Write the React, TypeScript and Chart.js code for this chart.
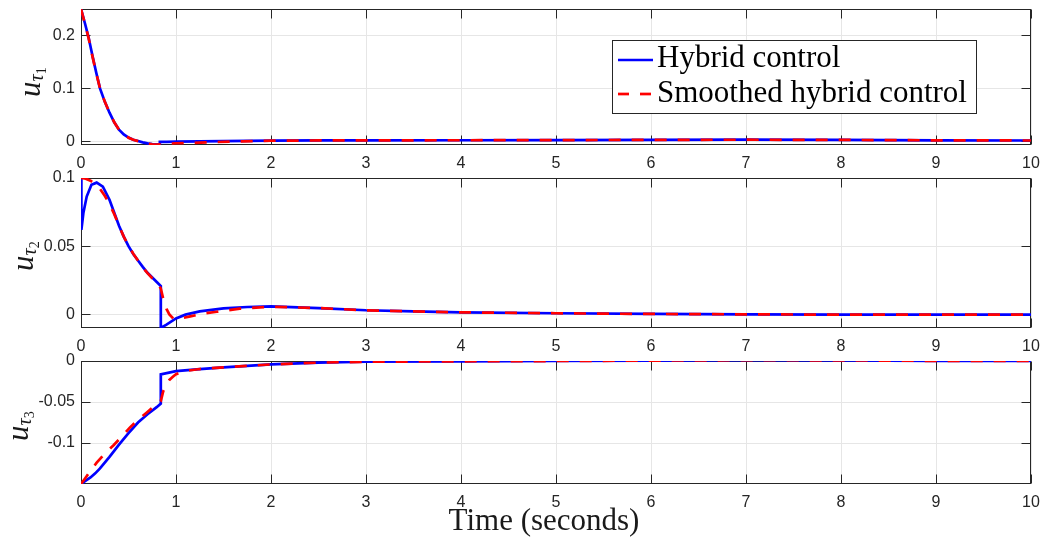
import { useEffect, useRef } from "react";
import { Chart, registerables } from "chart.js";

Chart.register(...registerables);

// ---------------- data ----------------
const xTicks = [0, 1, 2, 3, 4, 5, 6, 7, 8, 9, 10];
const xTickLabels = ["0", "1", "2", "3", "4", "5", "6", "7", "8", "9", "10"];

const seriesNames = ["Hybrid control", "Smoothed hybrid control"];
const xAxisTitle = "Time (seconds)";

// panel 1: u_tau1
const y1Ticks = [0, 0.1, 0.2];
const y1TickLabels = ["0", "0.1", "0.2"];
const t1Hybrid = [0, 0.04, 0.08, 0.12, 0.16, 0.2, 0.25, 0.3, 0.35, 0.4, 0.45, 0.5, 0.55, 0.6, 0.65, 0.7, 0.75, 0.8, 0.83, 0.83, 0.9, 1, 1.25, 1.5, 2, 2.5, 3, 4, 5, 6, 7, 8, 9, 10];
const u1Hybrid = [0.25, 0.224, 0.196, 0.162, 0.13, 0.1, 0.075, 0.054, 0.036, 0.022, 0.013, 0.007, 0.003, 0.0005, -0.002, -0.004, -0.0052, -0.0058, -0.006, -0.0012, -0.001, -0.0008, -0.0002, 0.0004, 0.0012, 0.0016, 0.0018, 0.002, 0.0022, 0.0027, 0.003, 0.0026, 0.0018, 0.0015];
const t1Smooth = [0, 0.04, 0.08, 0.12, 0.16, 0.2, 0.25, 0.3, 0.35, 0.4, 0.45, 0.5, 0.55, 0.6, 0.65, 0.7, 0.75, 0.8, 0.85, 0.9, 1, 1.17, 1.4, 1.7, 2, 2.5, 3, 4, 5, 6, 7, 8, 9, 10];
const u1Smooth = [0.25, 0.223, 0.195, 0.161, 0.129, 0.1, 0.075, 0.054, 0.036, 0.022, 0.013, 0.0068, 0.0028, 0.0003, -0.0025, -0.0045, -0.0058, -0.0062, -0.0055, -0.0047, -0.0037, -0.003, -0.0015, 0, 0.0011, 0.0016, 0.0018, 0.002, 0.0022, 0.0027, 0.003, 0.0026, 0.0018, 0.0015];

// panel 2: u_tau2
const y2Ticks = [0, 0.05, 0.1];
const y2TickLabels = ["0", "0.05", "0.1"];
const t2Hybrid = [0, 0.004, 0.025, 0.06, 0.11, 0.165, 0.23, 0.3, 0.35, 0.4, 0.45, 0.5, 0.55, 0.6, 0.65, 0.7, 0.75, 0.8, 0.84, 0.84, 0.9, 1, 1.1, 1.25, 1.5, 1.75, 2, 2.5, 3, 3.5, 4, 5, 6, 7, 8, 9, 10];
const u2Hybrid = [0.1, 0.062, 0.0743, 0.0864, 0.095, 0.0966, 0.0937, 0.084, 0.0745, 0.065, 0.057, 0.05, 0.0443, 0.0395, 0.0348, 0.0305, 0.027, 0.0235, 0.0208, -0.01, -0.0075, -0.003, -0.0002, 0.0022, 0.0044, 0.0054, 0.0058, 0.0046, 0.003, 0.0022, 0.0015, 0.0008, 0.0003, 0, -0.0002, -0.0002, -0.0002];
const t2Smooth = [0, 0.05, 0.1, 0.15, 0.2, 0.25, 0.3, 0.35, 0.4, 0.45, 0.5, 0.55, 0.6, 0.65, 0.7, 0.75, 0.8, 0.84, 0.87, 0.9, 0.93, 0.97, 1, 1.05, 1.15, 1.3, 1.43, 1.67, 2, 2.5, 3, 3.5, 4, 5, 6, 7, 8, 9, 10];
const u2Smooth = [0.1, 0.0995, 0.098, 0.0955, 0.092, 0.087, 0.081, 0.0735, 0.065, 0.057, 0.0505, 0.0445, 0.0395, 0.0345, 0.0302, 0.0265, 0.023, 0.019, 0.01, 0.004, 0, -0.003, -0.0035, -0.003, -0.0015, 0.0008, 0.0019, 0.0042, 0.0056, 0.0046, 0.003, 0.0022, 0.0015, 0.0008, 0.0003, 0, -0.0002, -0.0002, -0.0002];

// panel 3: u_tau3
const y3Ticks = [-0.1, -0.05, 0];
const y3TickLabels = ["-0.1", "-0.05", "0"];
const t3Hybrid = [0, 0.05, 0.1, 0.15, 0.2, 0.3, 0.4, 0.5, 0.6, 0.7, 0.8, 0.84, 0.84, 1, 1.25, 1.5, 2, 2.5, 3, 4, 5, 6, 7, 8, 9, 10];
const u3Hybrid = [-0.15, -0.146, -0.142, -0.137, -0.131, -0.117, -0.102, -0.088, -0.075, -0.065, -0.056, -0.052, -0.0163, -0.0124, -0.0098, -0.0078, -0.0042, -0.002, -0.0009, -0.0004, 0, 0.0005, 0.001, 0.0008, 0.0002, 0];
const t3Smooth = [0, 0.05, 0.1, 0.165, 0.25, 0.34, 0.43, 0.516, 0.6, 0.69, 0.76, 0.84, 0.865, 0.9, 0.93, 0.97, 1, 1.11, 1.25, 1.5, 2, 2.5, 3, 4, 5, 6, 7, 8, 9, 10];
const u3Smooth = [-0.15, -0.142, -0.134, -0.124, -0.113, -0.103, -0.092, -0.081, -0.072, -0.063, -0.056, -0.049, -0.037, -0.028, -0.023, -0.019, -0.016, -0.012, -0.0098, -0.0078, -0.0042, -0.002, -0.0009, -0.0004, 0, 0.0005, 0.001, 0.0008, 0.0002, 0];

// ---------------- layout / style ----------------
const W = 1043;
const H = 538;
const PLOT_LEFT = 81;
const PLOT_RIGHT = 1031;
const AXIS_COLOR = "#262626";
const GRID_COLOR = "#e6e6e6";
const BLUE = "#0000ff";
const RED = "#ff0000";
const LINE_W = 2.7;
const DASH = [12, 11];
const TICK_FONT = { family: '"Liberation Sans", Arial, sans-serif', size: 16 };
const SERIF = '"Liberation Serif", "Times New Roman", serif';

type Panel = {
  top: number;
  bottom: number;
  yMin: number;
  yMax: number;
  yTicks: number[];
  yTickLabels: string[];
  tH: number[];
  uH: number[];
  tS: number[];
  uS: number[];
  sub: string;
  labelX: number;
  labelY: number;
  legend: boolean;
  xTitle: boolean;
};

const panels: Panel[] = [
  { top: 9, bottom: 145, yMin: -0.007, yMax: 0.25, yTicks: y1Ticks, yTickLabels: y1TickLabels, tH: t1Hybrid, uH: u1Hybrid, tS: t1Smooth, uS: u1Smooth, sub: "1", labelX: 40, labelY: 97, legend: true, xTitle: false },
  { top: 178, bottom: 328, yMin: -0.01, yMax: 0.1, yTicks: y2Ticks, yTickLabels: y2TickLabels, tH: t2Hybrid, uH: u2Hybrid, tS: t2Smooth, uS: u2Smooth, sub: "2", labelX: 33, labelY: 271, legend: false, xTitle: false },
  { top: 361, bottom: 484, yMin: -0.15, yMax: 0, yTicks: y3Ticks, yTickLabels: y3TickLabels, tH: t3Hybrid, uH: u3Hybrid, tS: t3Smooth, uS: u3Smooth, sub: "3", labelX: 28, labelY: 441, legend: false, xTitle: true },
];

function drawYLabel(ctx: CanvasRenderingContext2D, x: number, y: number, sub: string) {
  ctx.save();
  ctx.translate(x, y);
  ctx.rotate(-Math.PI / 2);
  ctx.fillStyle = "#1a1a1a";
  ctx.textAlign = "left";
  ctx.textBaseline = "alphabetic";
  ctx.font = `italic 31px ${SERIF}`;
  ctx.fillText("u", 0, 0);
  const wu = ctx.measureText("u").width;
  ctx.font = `italic 20px ${SERIF}`;
  ctx.fillText("τ", wu, 3);
  const wt = ctx.measureText("τ").width;
  ctx.font = `14px ${SERIF}`;
  ctx.fillText(sub, wu + wt, 6);
  ctx.restore();
}

function drawLegend(ctx: CanvasRenderingContext2D) {
  const x0 = 612.5, y0 = 40.5, x1 = 976.5, y1 = 113.5;
  ctx.save();
  ctx.fillStyle = "#ffffff";
  ctx.fillRect(x0, y0, x1 - x0, y1 - y0);
  ctx.strokeStyle = AXIS_COLOR;
  ctx.lineWidth = 1;
  ctx.strokeRect(x0, y0, x1 - x0, y1 - y0);
  const rows = [
    { y: 60, color: BLUE, dash: [] as number[], text: seriesNames[0], base: 67 },
    { y: 94, color: RED, dash: [11, 11], text: seriesNames[1], base: 102 },
  ];
  for (const r of rows) {
    ctx.beginPath();
    ctx.setLineDash(r.dash);
    ctx.strokeStyle = r.color;
    ctx.lineWidth = LINE_W;
    ctx.moveTo(618, r.y);
    ctx.lineTo(653, r.y);
    ctx.stroke();
    ctx.setLineDash([]);
    ctx.fillStyle = "#000000";
    ctx.font = `31px ${SERIF}`;
    ctx.textAlign = "left";
    ctx.textBaseline = "alphabetic";
    ctx.fillText(r.text, 657, r.base);
  }
  ctx.restore();
}

const framePlugin = {
  id: "frame",
  beforeDatasetsDraw(chart: any, _args: any, opts: any) {
    const { ctx, chartArea: a, scales } = chart;
    ctx.save();
    ctx.strokeStyle = AXIS_COLOR;
    ctx.lineWidth = 1;
    const L = Math.round(a.left) + 0.5;
    const R = Math.round(a.right) - 0.5;
    const T = Math.round(a.top) + 0.5;
    const B = Math.round(a.bottom) - 0.5;
    const TL = 9;
    ctx.beginPath();
    for (const v of xTicks) {
      const px = Math.round(scales.x.getPixelForValue(v)) + 0.5;
      ctx.moveTo(px, B);
      ctx.lineTo(px, B - TL);
      ctx.moveTo(px, T);
      ctx.lineTo(px, T + TL);
    }
    for (const v of opts.yTicks as number[]) {
      const py = Math.round(scales.y.getPixelForValue(v)) + 0.5;
      ctx.moveTo(L, py);
      ctx.lineTo(L + TL, py);
      ctx.moveTo(R, py);
      ctx.lineTo(R - TL, py);
    }
    ctx.stroke();
    ctx.strokeRect(L, T, R - L, B - T);
    ctx.restore();
  },
  afterDraw(chart: any, _args: any, opts: any) {
    const ctx = chart.ctx as CanvasRenderingContext2D;
    if (opts.legend) drawLegend(ctx);
    drawYLabel(ctx, opts.labelX, opts.labelY, opts.sub);
    if (opts.xTitle) {
      ctx.save();
      ctx.fillStyle = "#1a1a1a";
      ctx.font = `31px ${SERIF}`;
      ctx.textAlign = "center";
      ctx.textBaseline = "alphabetic";
      ctx.fillText(xAxisTitle, 544, 530);
      ctx.restore();
    }
  },
};

function makeConfig(p: Panel): any {
  return {
    type: "line",
    data: {
      datasets: [
        {
          label: seriesNames[0],
          data: p.tH.map((t, i) => ({ x: t, y: p.uH[i] })),
          borderColor: BLUE,
          borderWidth: LINE_W,
          pointRadius: 0,
          tension: 0,
          fill: false,
          order: 2,
        },
        {
          label: seriesNames[1],
          data: p.tS.map((t, i) => ({ x: t, y: p.uS[i] })),
          borderColor: RED,
          borderWidth: LINE_W,
          borderDash: DASH,
          pointRadius: 0,
          tension: 0,
          fill: false,
          order: 1,
        },
      ],
    },
    options: {
      responsive: false,
      animation: false,
      devicePixelRatio: 1,
      events: [],
      layout: { padding: { top: p.top, right: W - PLOT_RIGHT, left: 0, bottom: 0 } },
      plugins: {
        legend: { display: false },
        tooltip: { enabled: false },
        frame: {
          yTicks: p.yTicks,
          sub: p.sub,
          labelX: p.labelX,
          labelY: p.labelY,
          legend: p.legend,
          xTitle: p.xTitle,
        },
      },
      scales: {
        x: {
          type: "linear",
          min: 0,
          max: 10,
          afterBuildTicks: (s: any) => {
            s.ticks = xTicks.map((v) => ({ value: v }));
          },
          afterFit: (s: any) => {
            s.height = H - p.bottom;
            s.paddingLeft = 0;
            s.paddingRight = 0;
          },
          ticks: {
            autoSkip: false,
            maxRotation: 0,
            padding: 9,
            color: AXIS_COLOR,
            font: TICK_FONT,
            callback: (_v: any, i: number) => xTickLabels[i],
          },
          grid: { color: GRID_COLOR, lineWidth: 1, drawTicks: false },
          border: { display: false },
        },
        y: {
          type: "linear",
          min: p.yMin,
          max: p.yMax,
          afterBuildTicks: (s: any) => {
            s.ticks = p.yTicks.map((v) => ({ value: v }));
          },
          afterFit: (s: any) => {
            s.width = PLOT_LEFT;
            s.paddingTop = 0;
            s.paddingBottom = 0;
          },
          ticks: {
            autoSkip: false,
            padding: 6,
            color: AXIS_COLOR,
            font: TICK_FONT,
            callback: (_v: any, i: number) => p.yTickLabels[i],
          },
          grid: { color: GRID_COLOR, lineWidth: 1, drawTicks: false },
          border: { display: false },
        },
      },
    },
    plugins: [framePlugin],
  };
}

export default function App() {
  const r1 = useRef<HTMLCanvasElement>(null);
  const r2 = useRef<HTMLCanvasElement>(null);
  const r3 = useRef<HTMLCanvasElement>(null);

  useEffect(() => {
    const refs = [r1, r2, r3];
    const charts = refs.map((r, i) => new Chart(r.current as HTMLCanvasElement, makeConfig(panels[i])));
    return () => charts.forEach((c) => c.destroy());
  }, []);

  const cs: any = { position: "absolute", left: 0, top: 0, width: W, height: H };
  return (
    <div style={{ position: "fixed", left: 0, top: 0, width: W, height: H, background: "#ffffff" }}>
      <canvas ref={r1} width={W} height={H} style={cs} />
      <canvas ref={r2} width={W} height={H} style={cs} />
      <canvas ref={r3} width={W} height={H} style={cs} />
    </div>
  );
}
